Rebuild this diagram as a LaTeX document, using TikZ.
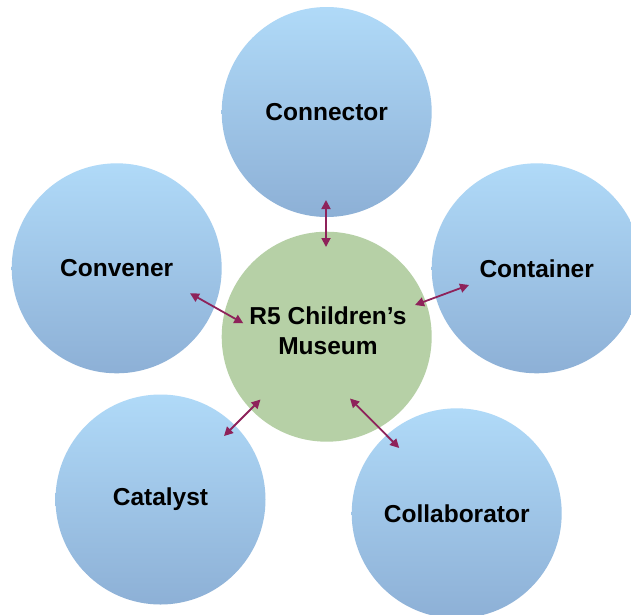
\documentclass[tikz,border=0pt]{standalone}
\usepackage{fontspec}
\setmainfont{Liberation Sans}
\usetikzlibrary{arrows.meta}
\definecolor{bluetop}{RGB}{176,218,248}
\definecolor{bluebot}{RGB}{141,176,214}
\definecolor{musegreen}{RGB}{182,208,166}
\definecolor{arrowpurple}{RGB}{142,34,90}
\tikzset{
  labelfont/.style={font=\fontsize{24.5}{30}\selectfont\bfseries},
  bubble/.style={circle, minimum size=210pt, inner sep=0pt, draw=none,
    top color=bluetop, bottom color=bluebot, labelfont},
  hub/.style={circle, minimum size=210pt, inner sep=0pt, draw=none, fill=musegreen},
  hublabel/.style={align=center, inner sep=0pt, labelfont},
  link/.style={{Triangle[length=9pt,width=9pt]}-{Triangle[length=9pt,width=9pt]},
    line width=1.8pt, draw=arrowpurple, fill=arrowpurple}
}
\begin{document}
\begin{tikzpicture}[x=1pt,y=-1pt]
\useasboundingbox (0,0) rectangle (631,614);
\clip (0,0) rectangle (631,614);
\fill[white] (0,0) rectangle (631,614);

\node[bubble] (conn) at (326.7,112) {Connector};
\node[bubble] (conv) at (116.7,268.3) {Convener};
\node[bubble] (cont) at (536.7,268.3) {Container};
\node[bubble] (cata) at (160.5,499.5) {Catalyst};
\node[bubble] (coll) at (456.7,513.3) {Collaborator};
\node[hub] (mus) at (326.7,336.7) {};
\node[hublabel] (muslabel) at (328,331) {R5 Children’s\\Museum};

\coordinate (connA) at (326,200);
\coordinate (connB) at (326,247);
\coordinate (convA) at (190,293.3);
\coordinate (convB) at (243.3,323.3);
\coordinate (contA) at (469,285);
\coordinate (contB) at (415,305);
\coordinate (cataA) at (224,436);
\coordinate (cataB) at (260.5,399.5);
\coordinate (collA) at (399.2,448);
\coordinate (collB) at (350,398.5);

\draw[link] (connA) -- (connB);
\draw[link] (convA) -- (convB);
\draw[link] (contA) -- (contB);
\draw[link] (cataA) -- (cataB);
\draw[link] (collA) -- (collB);
\end{tikzpicture}
\end{document}
